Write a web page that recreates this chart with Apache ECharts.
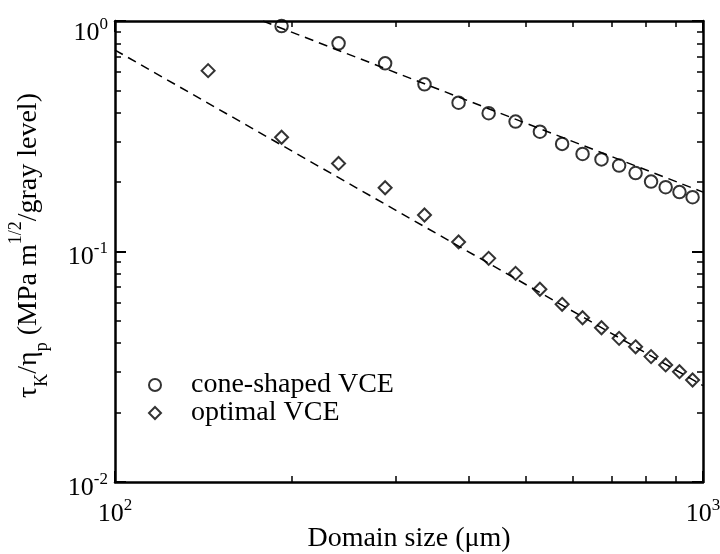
<!DOCTYPE html>
<html>
<head>
<meta charset="utf-8">
<script src="https://cdn.jsdelivr.net/npm/echarts@6/dist/echarts.min.js"></script>
<style>html,body{margin:0;padding:0;background:#fff}#c{width:720px;height:554px}</style>
</head>
<body>
<div id="c"></div>
<script>
// Data
var coneX = [192, 240, 288, 336, 384, 432, 480, 528, 576, 624, 672, 720, 768, 816, 864, 912, 960];
var coneY = [0.951, 0.800, 0.655, 0.531, 0.442, 0.398, 0.366, 0.331, 0.293, 0.265, 0.251, 0.236, 0.219, 0.201, 0.190, 0.181, 0.172];
var optX = [144, 192, 240, 288, 336, 384, 432, 480, 528, 576, 624, 672, 720, 768, 816, 864, 912, 960];
var optY = [0.609, 0.313, 0.241, 0.189, 0.144, 0.110, 0.0934, 0.0804, 0.0686, 0.059, 0.0516, 0.0467, 0.042, 0.0386, 0.035, 0.0322, 0.0301, 0.0277];
var fitConeX = [178.5, 1000];
var fitConeY = [1.0, 0.181];
var fitOptX = [100, 1000];
var fitOptY = [0.748, 0.0262];
var seriesNames = ['cone-shaped VCE', 'optimal VCE'];

function zip(a, b) { return a.map(function (v, i) { return [v, b[i]]; }); }

var FONT = '"Liberation Serif", "Times New Roman", "DejaVu Serif", serif';
var tickRich = {
  b: { fontFamily: FONT, fontSize: 26, color: '#000', lineHeight: 30, verticalAlign: 'bottom' },
  s: { fontFamily: FONT, fontSize: 17, color: '#000', lineHeight: 17, verticalAlign: 'top' },
  bt: { fontFamily: FONT, fontSize: 26, color: '#000', lineHeight: 43, verticalAlign: 'bottom' },
  st: { fontFamily: FONT, fontSize: 17, color: '#000', lineHeight: 17, verticalAlign: 'middle' }
};
function powLabel(v) {
  var e = Math.round(Math.log10(v));
  if (e === 0) return '{bt|10}{st|' + e + '}';
  return '{b|10}{s|' + e + '}';
}
function axisCommon(pos, showLabel) {
  return {
    type: 'log', logBase: 10, position: pos,
    axisLine: { show: true, onZero: false, lineStyle: { color: '#000', width: 2.5 } },
    axisTick: { show: true, inside: true, length: 11, lineStyle: { color: '#000', width: 2 } },
    minorTick: { show: true, splitNumber: 9, length: 6, lineStyle: { color: '#000', width: 1.5 } },
    splitLine: { show: false },
    minorSplitLine: { show: false },
    axisLabel: { show: showLabel, formatter: powLabel, fontFamily: FONT, rich: tickRich }
  };
}

var xMain = axisCommon('bottom', true);
xMain.min = 100; xMain.max = 1000;
xMain.axisLabel.margin = 15;
xMain.name = 'Domain size (\u03bcm)';
xMain.nameLocation = 'middle';
xMain.nameGap = 43;
xMain.nameMoveOverlap = false;
xMain.nameTextStyle = { fontFamily: FONT, fontSize: 28, color: '#000' };
var xTop = axisCommon('top', false);
xTop.min = 100; xTop.max = 1000;

var yMain = axisCommon('left', true);
yMain.min = 0.01; yMain.max = 1;
yMain.axisLabel.margin = 7;
yMain.axisLabel.padding = [8, 0, 0, 0];
yMain.name = '{b|\u03c4}{sb|K}{b|/\u03b7}{sb|p}{b| (MPa m}{sp|1/2}{b|/gray level)}';
yMain.nameLocation = 'middle';
yMain.nameGap = 64;
yMain.nameMoveOverlap = false;
yMain.nameTextStyle = {
  fontFamily: FONT,
  padding: [0, 0, 0, 12],
  rich: {
    b: { fontFamily: FONT, fontSize: 28, color: '#000', lineHeight: 44 },
    sb: { fontFamily: FONT, fontSize: 18, color: '#000', lineHeight: 18, verticalAlign: 'bottom' },
    sp: { fontFamily: FONT, fontSize: 18, color: '#000', lineHeight: 18, verticalAlign: 'top' }
  }
};
var yRight = axisCommon('right', false);
yRight.min = 0.01; yRight.max = 1;

var option = {
  backgroundColor: '#fff',
  animation: false,
  textStyle: { fontFamily: FONT },
  grid: { left: 115, right: 17, top: 21, bottom: 72, containLabel: false, outerBoundsMode: 'none' },
  xAxis: [xMain, xTop],
  yAxis: [yMain, yRight],
  legend: {
    data: seriesNames,
    orient: 'vertical',
    left: 148, top: 371,
    padding: 0,
    itemWidth: 12, itemHeight: 12, itemGap: 0,
    textStyle: { fontFamily: FONT, fontSize: 28, color: '#000', lineHeight: 27, padding: [0, 0, 0, 25] }
  },
  series: [
    {
      type: 'line', data: zip(fitConeX, fitConeY), symbol: 'none', silent: true,
      lineStyle: { color: '#000', width: 1.5, type: [9, 6] }, z: 1
    },
    {
      type: 'line', data: zip(fitOptX, fitOptY), symbol: 'none', silent: true,
      lineStyle: { color: '#000', width: 1.5, type: [9, 6] }, z: 1
    },
    {
      name: seriesNames[0], type: 'scatter', data: zip(coneX, coneY),
      symbol: 'circle', symbolSize: 12.5,
      itemStyle: { color: 'rgba(0,0,0,0)', borderColor: '#000', borderWidth: 2 }, z: 3
    },
    {
      name: seriesNames[1], type: 'scatter', data: zip(optX, optY),
      symbol: 'diamond', symbolSize: 13,
      itemStyle: { color: 'rgba(0,0,0,0)', borderColor: '#000', borderWidth: 2 }, z: 3
    }
  ]
};
var chart = echarts.init(document.getElementById('c'), null, { renderer: 'canvas' });
chart.setOption(option);
</script>
</body>
</html>
